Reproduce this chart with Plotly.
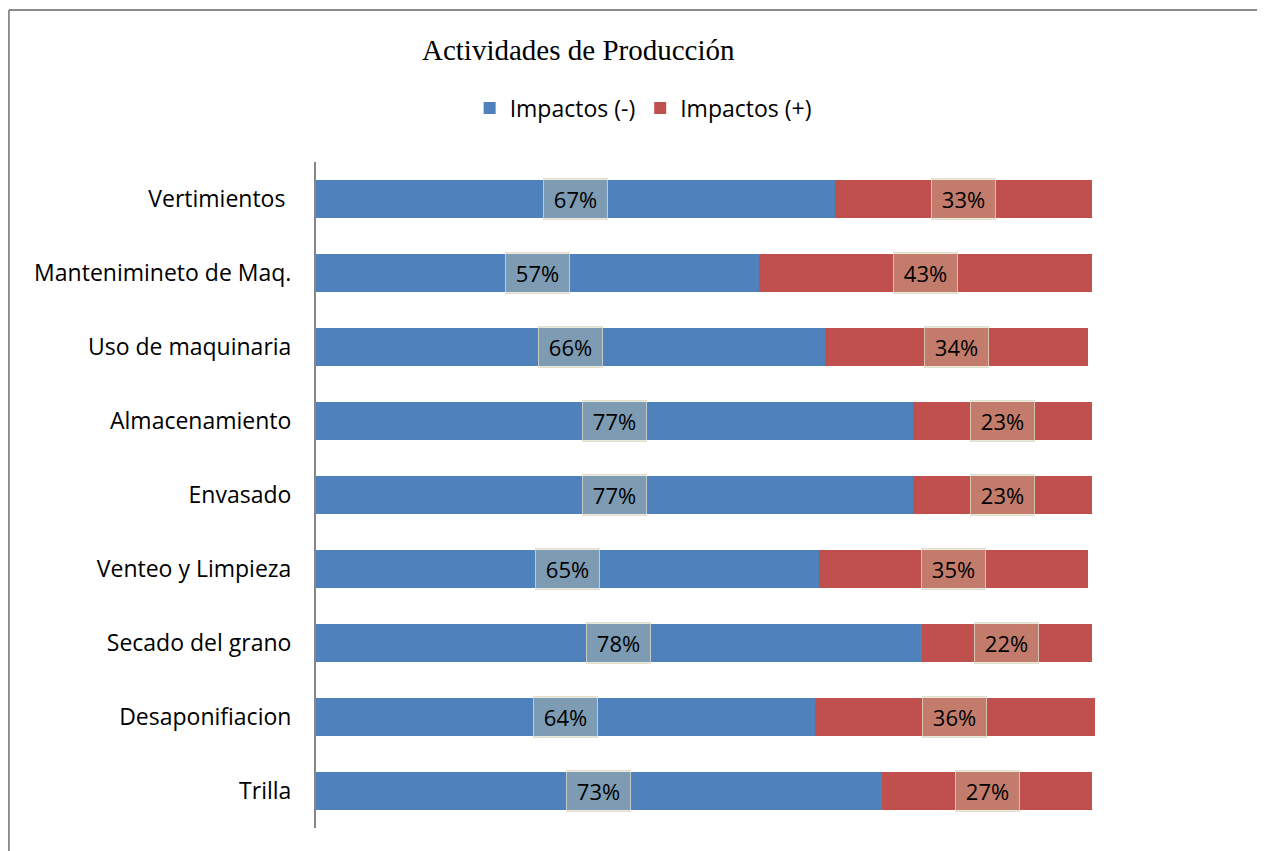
import plotly.graph_objects as go

categories = ["Vertimientos ", "Mantenimineto de Maq.", "Uso de maquinaria", "Almacenamiento",
              "Envasado", "Venteo y Limpieza", "Secado del grano", "Desaponifiacion", "Trilla"]
impactos_neg = [0.669, 0.570, 0.656, 0.769, 0.769, 0.648, 0.780, 0.643, 0.729]
impactos_pos = [0.331, 0.430, 0.338, 0.231, 0.231, 0.346, 0.220, 0.360, 0.271]

BLUE = "#4F81BD"
RED = "#C0504D"
FONT = "Open Sans"

# page body has an 8px margin; size the figure so it fills the window
W, H = 1257, 843
PL, PT = 308, 154
PW = 776 * 1.1
PH = 666
PB = H - PT - PH


def px(xr):
    return (xr - 316) / PW


def py(yr):
    return (828 - yr) / PH


fig = go.Figure()
fig.add_trace(go.Bar(y=categories, x=impactos_neg, orientation="h", name="Impactos (-)",
                     marker=dict(color=BLUE, line=dict(width=0)), width=0.51))
fig.add_trace(go.Bar(y=categories, x=impactos_pos, orientation="h", name="Impactos (+)",
                     marker=dict(color=RED, line=dict(width=0)), width=0.51))

annotations = []
for cat, n, p in zip(categories, impactos_neg, impactos_pos):
    for xc, v in ((n / 2, n), (n + p / 2, p)):
        annotations.append(dict(
            x=xc, y=cat, xref="x", yref="y", text=f"{v:.0%}", showarrow=False,
            font=dict(family=FONT, size=22, color="black"),
            bgcolor="rgba(200,198,160,0.38)", bordercolor="rgba(222,218,200,0.8)",
            borderwidth=1, width=61, height=38, align="center", valign="middle"))

annotations.append(dict(text="Actividades de Producción", xref="paper", yref="paper",
                        x=px(578), y=py(50), xanchor="center", yanchor="middle",
                        showarrow=False,
                        font=dict(family="Liberation Serif", size=29, color="black")))

fig.update_layout(
    width=W, height=H,
    margin=dict(l=PL, r=W - PL - PW, t=PT, b=PB, autoexpand=False),
    barmode="stack", bargap=0.49,
    plot_bgcolor="white", paper_bgcolor="white",
    showlegend=True,
    legend=dict(orientation="h", x=px(643), xanchor="center",
                y=py(108), yanchor="middle",
                font=dict(family=FONT, size=23, color="black"),
                itemwidth=30, traceorder="normal", bgcolor="rgba(0,0,0,0)"),
    xaxis=dict(range=[0, 1.1], showgrid=False, zeroline=False, showticklabels=False,
               showline=False, ticks=""),
    yaxis=dict(autorange="reversed", showgrid=False, zeroline=False, showline=True,
               linecolor="#868686", linewidth=2, ticks="", ticklabelstandoff=18,
               tickfont=dict(family=FONT, size=23, color="black")),
    annotations=annotations,
    shapes=[
        dict(type="line", xref="paper", yref="paper", x0=px(9), x1=px(9), y0=py(900), y1=py(10),
             line=dict(color="#8C8C8C", width=2), layer="below"),
        dict(type="line", xref="paper", yref="paper", x0=px(9), x1=px(1300), y0=py(10), y1=py(10),
             line=dict(color="#8C8C8C", width=2), layer="below"),
    ],
)

fig.write_html("out.html")
